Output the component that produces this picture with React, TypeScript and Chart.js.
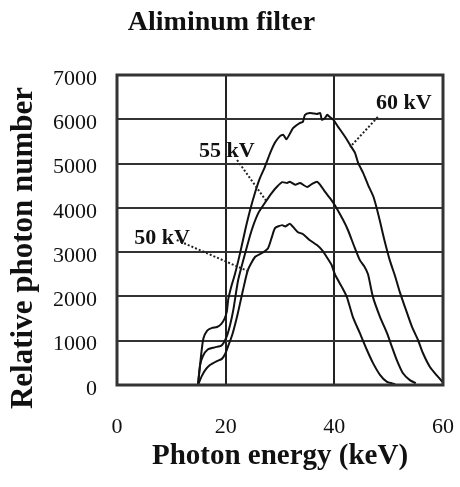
import React, { useEffect, useRef } from "react";
import { Chart, registerables } from "chart.js";

Chart.register(...registerables);

const chartTitle = "Aliminum filter";
const xAxisTitle = "Photon energy (keV)";
const yAxisTitle = "Relative photon number";
const xTicks = [0, 20, 40, 60];
const yTicks = [0, 1000, 2000, 3000, 4000, 5000, 6000, 7000];

const energy50 = [14.9, 15.6, 16.2, 17.1, 18.4, 19.3, 19.9, 20.4, 21.2, 22.2, 23.2, 24.1, 25.4, 26.7, 27.8, 28.5, 29.1, 30.4, 31.0, 31.8, 32.4, 33.3, 34.2, 35.5, 36.8, 37.7, 38.6, 39.5, 40.1, 41.4, 42.3, 43.4, 44.7, 46.0, 47.1, 48.4, 49.7, 51.2];
const photons50 = [0, 200, 330, 450, 540, 590, 700, 860, 1130, 1600, 2150, 2600, 2890, 2980, 3090, 3340, 3545, 3610, 3580, 3640, 3570, 3450, 3410, 3270, 3160, 3050, 2890, 2710, 2500, 2210, 1990, 1540, 1170, 790, 500, 230, 70, 20];

const energy55 = [14.9, 15.3, 15.8, 16.7, 18.0, 19.3, 20.2, 20.8, 21.4, 22.3, 23.6, 24.8, 26.0, 27.2, 28.5, 29.4, 30.4, 31.3, 31.8, 32.8, 33.7, 35.0, 35.9, 36.8, 37.4, 38.3, 39.2, 40.1, 41.6, 42.5, 43.6, 44.7, 45.5, 46.2, 47.1, 48.4, 49.7, 50.6, 51.5, 52.6, 53.9, 55.0];
const photons55 = [0, 450, 650, 800, 850, 900, 1100, 1350, 1690, 2370, 2980, 3500, 3880, 4110, 4340, 4470, 4580, 4560, 4590, 4520, 4560, 4470, 4540, 4590, 4520, 4360, 4220, 4060, 3730, 3500, 3150, 2820, 2680, 2500, 1990, 1540, 1170, 860, 560, 270, 110, 40];

const energy60 = [14.9, 15.5, 15.9, 16.6, 17.5, 18.4, 19.2, 19.8, 20.2, 20.5, 21.1, 21.7, 22.6, 23.6, 24.5, 25.4, 26.3, 27.2, 28.2, 29.1, 30.0, 30.6, 31.2, 32.4, 33.7, 34.2, 34.6, 35.5, 36.8, 37.4, 37.7, 38.3, 38.7, 39.2, 39.8, 40.7, 42.0, 42.9, 43.8, 44.4, 45.3, 46.2, 47.2, 48.2, 49.2, 50.2, 51.2, 52.1, 53.0, 54.3, 55.4, 56.3, 57.6, 58.9, 60.0];
const photons60 = [0, 700, 1050, 1230, 1290, 1310, 1380, 1500, 1650, 1950, 2250, 2500, 2950, 3500, 3950, 4340, 4670, 4920, 5240, 5480, 5620, 5650, 5550, 5800, 5920, 5940, 6100, 6140, 6120, 6140, 5990, 6030, 6100, 6050, 5990, 5830, 5600, 5420, 5240, 5010, 4790, 4520, 4250, 3800, 3280, 2820, 2450, 2080, 1760, 1310, 1016, 722, 406, 210, 60];

const seriesLabels = ["50 kV", "55 kV", "60 kV"];
const labelEnergy = [8.3, 20.2, 52.8];
const labelPhotons = [3319, 5283, 6367];
const leaderFromEnergy = [11.0, 22.1, 48.0];
const leaderFromPhotons = [3274, 5080, 6051];
const leaderToEnergy = [24.3, 27.5, 42.9];
const leaderToPhotons = [2560, 4150, 5374];

const SERIF = "'Liberation Serif', 'Times New Roman', serif";

function toPoints(xs: number[], ys: number[]) {
  return xs.map((x, i) => ({ x, y: ys[i] }));
}

const decorPlugin = {
  id: "decor",
  afterDatasetsDraw(chart: any) {
    const { ctx, chartArea: a, scales } = chart;
    const x = scales.x;
    const y = scales.y;
    ctx.save();
    // frame
    ctx.strokeStyle = "#333";
    ctx.lineWidth = 3;
    ctx.strokeRect(a.left, a.top, a.right - a.left, a.bottom - a.top);
    // dotted leaders
    ctx.strokeStyle = "#222";
    ctx.lineWidth = 2;
    ctx.setLineDash([2, 2]);
    for (let i = 0; i < seriesLabels.length; i++) {
      ctx.beginPath();
      ctx.moveTo(x.getPixelForValue(leaderFromEnergy[i]), y.getPixelForValue(leaderFromPhotons[i]));
      ctx.lineTo(x.getPixelForValue(leaderToEnergy[i]), y.getPixelForValue(leaderToPhotons[i]));
      ctx.stroke();
    }
    ctx.setLineDash([]);
    // series labels
    ctx.fillStyle = "#111";
    ctx.font = `bold 22px ${SERIF}`;
    ctx.textAlign = "center";
    ctx.textBaseline = "middle";
    for (let i = 0; i < seriesLabels.length; i++) {
      ctx.fillText(seriesLabels[i], x.getPixelForValue(labelEnergy[i]), y.getPixelForValue(labelPhotons[i]));
    }
    // y axis title
    ctx.translate(24, (a.top + a.bottom) / 2 + 18);
    ctx.rotate(-Math.PI / 2);
    ctx.font = `bold 31px ${SERIF}`;
    ctx.fillText(yAxisTitle, 0, 0);
    ctx.restore();
  },
};

export default function App() {
  const ref = useRef<HTMLCanvasElement | null>(null);
  useEffect(() => {
    if (!ref.current) return;
    const line = (xs: number[], ys: number[], label: string) => ({
      label,
      data: toPoints(xs, ys),
      borderColor: "#111",
      borderWidth: 2,
      pointRadius: 0,
      tension: 0.2,
      fill: false,
    });
    const chart = new Chart(ref.current, {
      type: "line",
      data: {
        datasets: [
          line(energy50, photons50, seriesLabels[0]),
          line(energy55, photons55, seriesLabels[1]),
          line(energy60, photons60, seriesLabels[2]),
        ],
      },
      options: {
        animation: false,
        responsive: false,
        devicePixelRatio: 1,
        layout: { padding: { left: 0, right: 17, top: 0, bottom: 0 } },
        plugins: {
          legend: { display: false },
          tooltip: { enabled: false },
          title: {
            display: true,
            text: chartTitle,
            color: "#111",
            font: { family: SERIF, size: 28, weight: "bold" },
            padding: { top: 6, bottom: 35.4 },
          },
        },
        scales: {
          x: {
            type: "linear",
            min: 0,
            max: 60,
            afterBuildTicks: (s: any) => {
              s.ticks = xTicks.map((v) => ({ value: v }));
            },
            afterFit: (s: any) => {
              s.height = 102;
              s.paddingLeft = 0;
              s.paddingRight = 0;
            },
            ticks: {
              color: "#111",
              font: { family: SERIF, size: 22 },
              padding: 29,
              maxRotation: 0,
              callback: (v: any) => String(v),
            },
            grid: { color: "#222", lineWidth: 2, drawTicks: false },
            border: { display: false },
            title: {
              display: true,
              text: xAxisTitle,
              color: "#111",
              font: { family: SERIF, size: 29, weight: "bold" },
              padding: { top: 0, bottom: 12.6 },
            },
          },
          y: {
            type: "linear",
            min: 0,
            max: 7000,
            afterBuildTicks: (s: any) => {
              s.ticks = yTicks.map((v) => ({ value: v }));
            },
            afterFit: (s: any) => {
              s.width = 117;
              s.paddingTop = 0;
              s.paddingBottom = 0;
            },
            ticks: {
              color: "#111",
              font: { family: SERIF, size: 22 },
              padding: 20,
              labelOffset: 4,
              callback: (v: any) => String(v),
            },
            grid: { color: "#333", lineWidth: 2, drawTicks: false },
            border: { display: false },
          },
        },
      },
      plugins: [decorPlugin],
    });
    return () => chart.destroy();
  }, []);
  return (
    <div style={{ position: "absolute", left: 0, top: 0, width: 460, height: 487, background: "#fff" }}>
      <canvas ref={ref} width={460} height={487} style={{ width: 460, height: 487, display: "block" }} />
    </div>
  );
}
